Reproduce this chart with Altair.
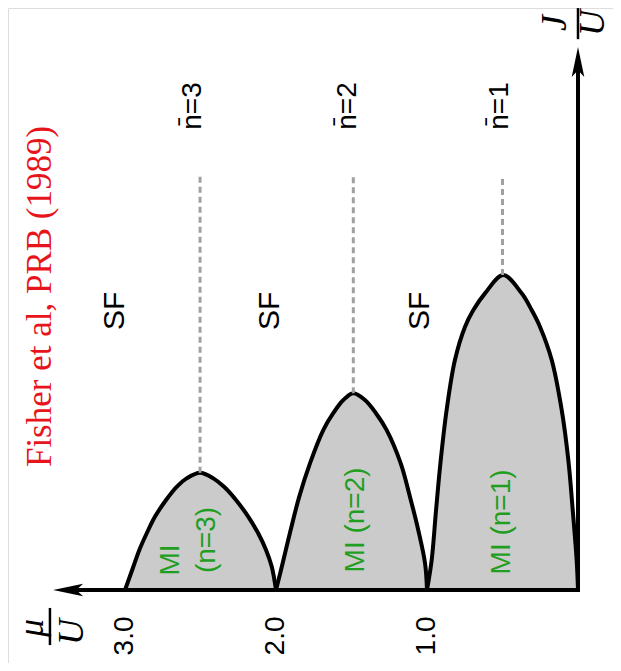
import altair as alt
import pandas as pd

# ---- data (mu/U along the horizontal arrow, J/U vertical) ----
lobe1_mu = [0.0, 0.009, 0.035, 0.064, 0.108, 0.174, 0.252, 0.307, 0.373, 0.495,
            0.616, 0.693, 0.748, 0.815, 0.870, 0.909, 0.940, 0.969, 1.0]
lobe1_J = [0.0, 0.0164, 0.0437, 0.0710, 0.0984, 0.1257, 0.1439, 0.1530, 0.1621, 0.1721,
           0.1621, 0.1530, 0.1439, 0.1257, 0.0984, 0.0710, 0.0437, 0.0164, 0.0]

lobe2_mu = [1.0, 1.013, 1.058, 1.113, 1.174, 1.267, 1.338, 1.411, 1.488,
            1.554, 1.621, 1.687, 1.775, 1.846, 1.903, 1.956, 2.0]
lobe2_J = [0.0, 0.0146, 0.0328, 0.0510, 0.0692, 0.0874, 0.0966, 0.1038, 0.1075,
           0.1038, 0.0966, 0.0874, 0.0692, 0.0510, 0.0328, 0.0146, 0.0]

lobe3_mu = [2.0, 2.028, 2.066, 2.118, 2.184, 2.265, 2.344, 2.415, 2.503,
            2.592, 2.658, 2.728, 2.801, 2.856, 2.905, 2.945, 3.0]
lobe3_J = [0.0, 0.0127, 0.0219, 0.0310, 0.0401, 0.0492, 0.0564, 0.0610, 0.0641,
           0.0610, 0.0564, 0.0492, 0.0401, 0.0310, 0.0219, 0.0127, 0.0]

peak_mu = [0.5, 1.488, 2.503]
peak_J = [0.1721, 0.1075, 0.0641]
density_labels = ["n\u0304=1", "n\u0304=2", "n\u0304=3"]
density_label_mu = [0.517, 1.523, 2.55]

tick_values = [1.0, 2.0, 3.0]
tick_labels = ["1.0", "2.0", "3.0"]

sf_mu = [1.046, 2.04, 3.066]
mi_labels = ["MI (n=1)", "MI (n=2)", "MI", "(n=3)"]
mi_mu = [0.503, 1.47, 2.695, 2.457]
mi_J = [0.0372, 0.0383, 0.0164, 0.0273]

# ---- geometry constants ----
J_DASH_TOP = 0.2268
J_NBAR = 0.2645
J_SF = 0.1525
J_TICKLBL = -0.0251
X_ARROW_MU = 3.377
Y_ARROW_J = 0.2885

xs = alt.Scale(domain=[0, 3], range=[570, 117], zero=False, nice=False)
ys = alt.Scale(domain=[0, 0.3], range=[582, 33], zero=False, nice=False)

lobes = pd.DataFrame({
    "mu": lobe1_mu + lobe2_mu + lobe3_mu,
    "J": lobe1_J + lobe2_J + lobe3_J,
    "lobe": ["1"] * len(lobe1_mu) + ["2"] * len(lobe2_mu) + ["3"] * len(lobe3_mu),
})
lobes["base"] = 0.0

X = lambda f="mu": alt.X(f"{f}:Q", scale=xs, axis=None)
Y = lambda f="J": alt.Y(f"{f}:Q", scale=ys, axis=None)

area = alt.Chart(lobes).mark_area(color="#cbcbcb", opacity=1, interpolate="catmull-rom").encode(
    x=X(), y=alt.Y("J:Q", scale=ys, axis=None, stack=None), y2="base:Q", detail="lobe:N")
line = alt.Chart(lobes).mark_line(color="black", strokeWidth=4, interpolate="catmull-rom").encode(
    x=X(), y=Y(), detail="lobe:N", order="mu:Q")

peaks = pd.DataFrame({"mu": peak_mu, "J": peak_J, "top": [J_DASH_TOP] * 3})
dashes = alt.Chart(peaks).mark_rule(color="#a0a0a0", strokeWidth=3, strokeDash=[6, 4]).encode(
    x=X(), y=Y(), y2="top:Q")

axes_df = pd.DataFrame({"mu": [0.0, 0.0], "mu2": [X_ARROW_MU, 0.0],
                        "J": [0.0, 0.0], "J2": [0.0, Y_ARROW_J]})
axes = alt.Chart(axes_df).mark_rule(color="black", strokeWidth=4, strokeCap="square").encode(
    x=X(), x2="mu2:Q", y=Y(), y2="J2:Q")

up_arrow = "M0,-1L0.42,1L0,0.55L-0.42,1Z"
left_arrow = "M-1,0L1,-0.42L0.55,0L1,0.42Z"
arr_up = alt.Chart(pd.DataFrame({"mu": [0.0], "J": [Y_ARROW_J]})).mark_point(
    shape=up_arrow, filled=True, size=900, color="black", opacity=1).encode(x=X(), y=Y())
arr_left = alt.Chart(pd.DataFrame({"mu": [X_ARROW_MU], "J": [0.0]})).mark_point(
    shape=left_arrow, filled=True, size=900, color="black", opacity=1).encode(x=X(), y=Y())

sans = "Liberation Sans"
serif = "Liberation Serif"

def txt(df, **kw):
    return alt.Chart(df).mark_text(angle=270, baseline="middle", **kw).encode(
        x=X(), y=Y(), text="t:N")

ticks = txt(pd.DataFrame({"mu": tick_values, "J": [J_TICKLBL] * 3, "t": tick_labels}),
            font=sans, fontSize=28, color="black")
nbar = txt(pd.DataFrame({"mu": density_label_mu, "J": [J_NBAR] * 3, "t": density_labels}),
           font=sans, fontSize=28, color="black")
sf = txt(pd.DataFrame({"mu": sf_mu, "J": [J_SF] * 3, "t": ["SF"] * 3}),
         font=sans, fontSize=30, color="black")
mi = txt(pd.DataFrame({"mu": mi_mu, "J": mi_J, "t": mi_labels}),
         font=sans, fontSize=28, color="#1f9e1f")
ref = txt(pd.DataFrame({"mu": [3.563], "J": [0.1604], "t": ["Fisher et al, PRB (1989)"]}),
          font=serif, fontSize=35, color="#e8141c")

math = txt(pd.DataFrame({"mu": [3.616, 3.351, 0.152, -0.10],
                         "J": [-0.0208, -0.0230, 0.3098, 0.3098],
                         "t": ["\u03bc", "U", "J", "U"]}),
           font=serif, fontSize=36, fontStyle="italic", color="black")
frac_df = pd.DataFrame({"mu": [3.497, 0.0], "mu2": [3.497, 0.0],
                        "J": [-0.0098, 0.3010], "J2": [-0.0301, 0.3180]})
frac = alt.Chart(frac_df).mark_rule(color="black", strokeWidth=2.5).encode(
    x=X(), x2="mu2:Q", y=Y(), y2="J2:Q")

chart = alt.layer(area, line, dashes, axes, arr_up, arr_left, ticks, nbar, sf, mi, ref, math, frac).properties(
    width=605, height=655,
    autosize=alt.AutoSizeParams(type="none"),
    padding={"left": 0, "top": 0, "right": 0, "bottom": 0},
).configure_view(stroke=None).configure(background="white")

chart.save("out.html", embed_options={"renderer": "svg", "actions": False})
